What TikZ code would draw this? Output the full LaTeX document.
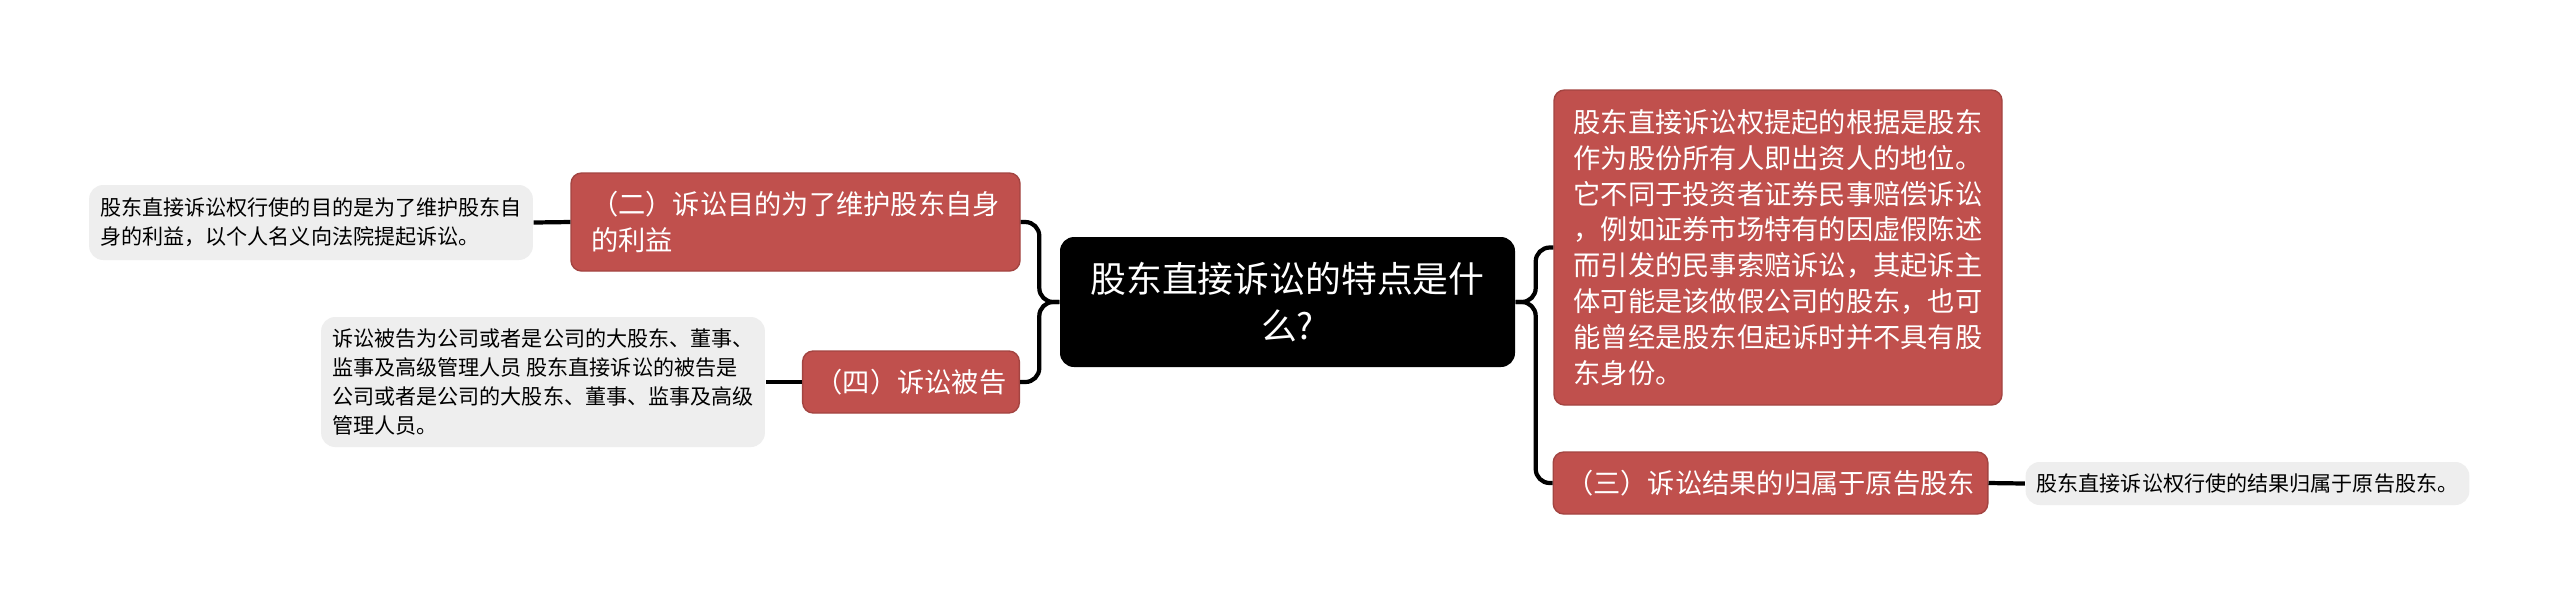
\documentclass[tikz,border=0pt]{standalone}
\usepackage{fontspec}
\newfontfamily\cjk{Noto Sans CJK SC}
\usepackage{tikz}
\usetikzlibrary{positioning}
\definecolor{merahbata}{RGB}{192, 80, 77}
\definecolor{abumuda}{RGB}{238, 238, 238}

\begin{document}
\begin{tikzpicture}[
    pusat/.style={fill=black, text=white, rounded corners=4pt, align=center,
                  minimum width=4.55cm, minimum height=1.30cm, inner sep=0pt,
                  font=\cjk\fontsize{10.2pt}{13.4pt}\selectfont},
    cabang/.style={fill=merahbata, draw=merahbata!85!black, line width=0.4pt,
                   text=white, rounded corners=3pt, align=left,
                   inner xsep=0.13cm, inner ysep=0.12cm,
                   font=\cjk\fontsize{7.75pt}{10.2pt}\selectfont},
    daun/.style={fill=abumuda, rounded corners=4pt, align=left,
                 inner xsep=0.11cm, inner ysep=0.1cm,
                 font=\cjk\fontsize{6pt}{8.25pt}\selectfont},
    garis/.style={line width=1.2pt, rounded corners=0.14cm}
  ]
    \fill[white] (0,0) rectangle (25.6,-6.05);
    \useasboundingbox (0,0) rectangle (25.6,-6.05);

    \node[pusat] (pusat) at (12.875,-3.02) {股东直接诉讼的特点是什\\么?};

    \node[cabang, minimum width=4.49cm, minimum height=0.98cm] (dua) at (7.955,-2.22)
      {（二）诉讼目的为了维护股东自身\\的利益};
    \node[cabang, minimum width=2.16cm, minimum height=0.62cm] (empat) at (9.11,-3.82)
      {（四）诉讼被告};
    \node[cabang, minimum width=4.48cm, minimum height=3.15cm] (dasar) at (17.78,-2.475)
      {股东直接诉讼权提起的根据是股东\\作为股份所有人即出资人的地位。\\它不同于投资者证券民事赔偿诉讼\\，例如证券市场特有的因虚假陈述\\而引发的民事索赔诉讼，其起诉主\\体可能是该做假公司的股东，也可\\能曾经是股东但起诉时并不具有股\\东身份。};
    \node[cabang, minimum width=4.33cm, minimum height=0.62cm] (tiga) at (17.705,-4.83)
      {（三）诉讼结果的归属于原告股东};

    \node[daun, minimum width=4.42cm, minimum height=0.75cm] (dua-isi) at (3.11,-2.225)
      {股东直接诉讼权行使的目的是为了维护股东自\\身的利益，以个人名义向法院提起诉讼。};
    \node[daun, minimum width=4.42cm, minimum height=1.30cm] (empat-isi) at (5.43,-3.82)
      {诉讼被告为公司或者是公司的大股东、董事、\\监事及高级管理人员 股东直接诉讼的被告是\\公司或者是公司的大股东、董事、监事及高级\\管理人员。};
    \node[daun, minimum width=4.43cm, minimum height=0.43cm] (tiga-isi) at (22.475,-4.835)
      {股东直接诉讼权行使的结果归属于原告股东。};

    \draw[garis] (pusat.west) -- ++(-0.2,0) |- (dua.east);
    \draw[garis] (pusat.west) -- ++(-0.2,0) |- (empat.east);
    \draw[garis] (pusat.east) -- ++(0.2,0) |- (dasar.west);
    \draw[garis] (pusat.east) -- ++(0.2,0) |- (tiga.west);
    \draw[garis] (dua.west) -- (dua-isi.east);
    \draw[garis] (empat.west) -- (empat-isi.east);
    \draw[garis] (tiga.east) -- (tiga-isi.west);
\end{tikzpicture}
\end{document}
